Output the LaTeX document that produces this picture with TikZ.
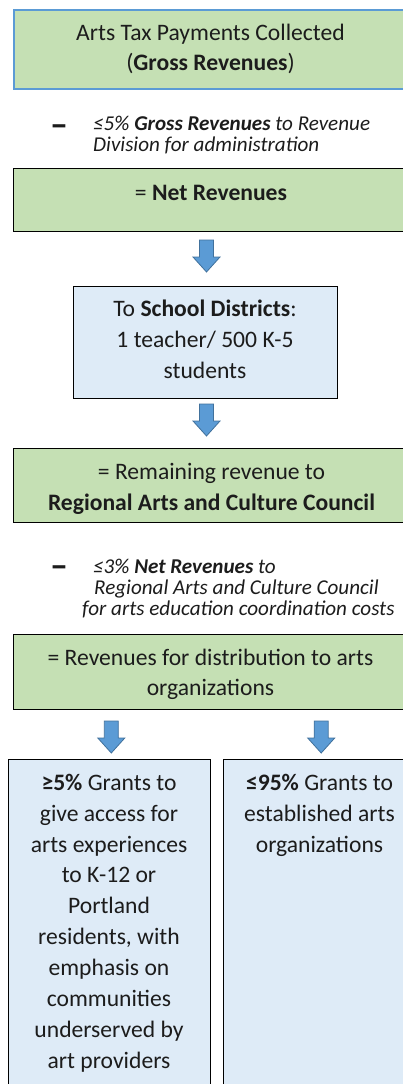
\documentclass[tikz,border=0pt]{standalone}
\usepackage{fontspec}
\setmainfont{Carlito}
\definecolor{gfill}{HTML}{C5E0B4}
\definecolor{bfill}{HTML}{DEEBF7}
\definecolor{afill}{HTML}{5B9BD5}
\definecolor{aline}{HTML}{41719C}
\definecolor{tcol}{HTML}{1C1C1C}
\newcommand\bxfont{\fontsize{23.6}{30.9}\selectfont}
\newcommand\itfont{\fontsize{21.1}{21}\selectfont\itshape}
\begin{document}
\begin{tikzpicture}[x=1pt,y=-1pt,
  boxbase/.style={draw=black, line width=1.3pt, inner sep=0pt, anchor=north west},
  greenbox/.style={boxbase, fill=gfill},
  bluebox/.style={boxbase, fill=bfill},
  boxtext/.style={inner sep=0pt, anchor=north, align=center, text=tcol, font=\bxfont},
  notetext/.style={inner sep=0pt, anchor=north west, align=left, text=tcol, font=\itfont},
  minus/.style={inner sep=0pt, anchor=base, text=tcol, font=\fontsize{36}{36}\selectfont\bfseries},
  downarr/.pic={\draw[line width=0.8pt, draw=aline, fill=afill]
     (-7,0) -- (7,0) -- (7,17) -- (13.5,17) -- (0,32) -- (-13.5,17) -- (-7,17) -- cycle;}
]
\useasboundingbox (0,0) rectangle (403,1084);
\clip (0,0) rectangle (403,1084);
\fill[white] (0,0) rectangle (403,1084);

% boxes
\node[greenbox, draw=afill, line width=2pt, minimum width=396pt, minimum height=79pt] (b1) at (13,9) {};
\node[greenbox, minimum width=396pt, minimum height=63pt] (b2) at (13,168) {};
\node[bluebox, minimum width=264pt, minimum height=112pt] (b3) at (73,286) {};
\node[greenbox, minimum width=396pt, minimum height=74pt] (b4) at (13,448) {};
\node[greenbox, minimum width=396pt, minimum height=75pt] (b5) at (13,634) {};
\node[bluebox, minimum width=202pt, minimum height=400pt] (b6) at (8,759) {};
\node[bluebox, minimum width=193pt, minimum height=400pt] (b7) at (223,759) {};

% texts in boxes
\node[boxtext, font=\fontsize{23.6}{30}\selectfont] (t1) at (210.5,19) {\strut Arts Tax Payments Collected\\(\textbf{Gross Revenues})};
\node[boxtext, anchor=base] (t2) at (211,200) {= \textbf{Net Revenues}};
\node[boxtext, font=\fontsize{23.6}{30.7}\selectfont] (t3) at (205,295.2) {\strut To \textbf{School Districts}:\\1 teacher/ 500 K-5\\students};
\node[boxtext, font=\fontsize{23.6}{31}\selectfont] (t4) at (211.5,457.3) {\strut = Remaining revenue to\\\textbf{Regional Arts and Culture Council}};
\node[boxtext, font=\fontsize{23.6}{30}\selectfont] (t5) at (210.5,644) {\strut = Revenues for distribution to arts\\organizations};
\node[boxtext] (t6) at (109,768.4) {\strut \textbf{≥5\%} Grants to\\give access for\\arts experiences\\to K-12 or\\Portland\\residents, with\\emphasis on\\communities\\underserved by\\art providers};
\node[boxtext] (t7) at (319.5,768.4) {\strut \textbf{≤95\%} Grants to\\established arts\\organizations};

% deduction notes
\node[minus] (m1) at (59,136.8) {–};
\node[notetext] (n1) at (93,115.3) {\strut ≤5\% \textbf{Gross Revenues} to Revenue\\Division for administration};
\node[minus] (m2) at (59,577.8) {–};
\node[notetext] (n2) at (93,558.3) {\strut ≤3\% \textbf{Net Revenues} to\\\hspace*{1pt}Regional Arts and Culture Council\\\hspace*{-11pt}for arts education coordination costs};

% arrows
\coordinate (a1) at (206.5,240);
\coordinate (a2) at (206.5,404);
\coordinate (a3) at (111.3,721);
\coordinate (a4) at (321.2,721);
\pic at (a1) {downarr};
\pic at (a2) {downarr};
\pic at (a3) {downarr};
\pic at (a4) {downarr};
\end{tikzpicture}
\end{document}
